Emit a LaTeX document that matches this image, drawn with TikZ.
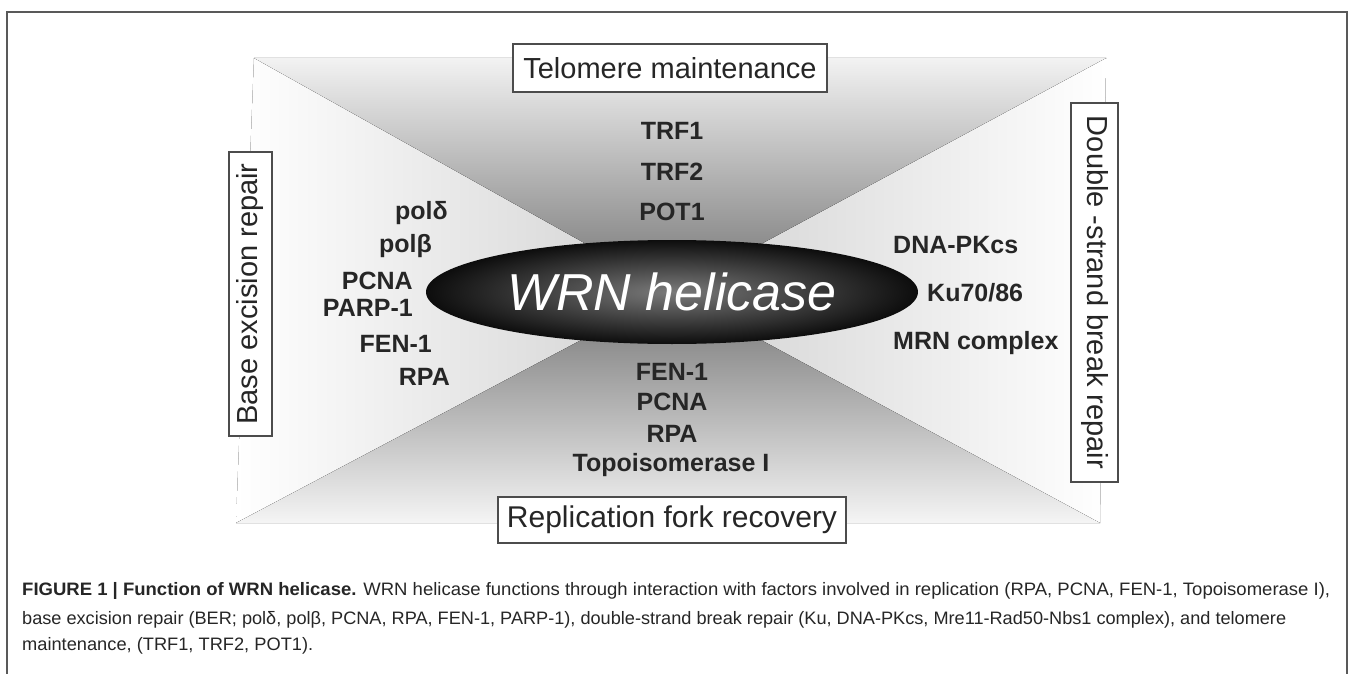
\documentclass[tikz,border=0pt]{standalone}
\usepackage{graphicx}
\usepackage{fontspec}
\setmainfont{Liberation Sans}
\usetikzlibrary{shapes.geometric}
\tikzset{
  lbl/.style={font=\fontsize{25}{28}\selectfont\bfseries, text=black!85, inner sep=0pt},
  catbox/.style={draw=black!70, line width=2pt, fill=white, inner sep=0pt, text=black!85, font=\fontsize{29}{31}\selectfont},
  capline/.style={anchor=west, inner sep=0pt, font=\fontsize{18}{20}\selectfont, text=black!85},
  frame/.style={draw=black!65, line width=1.5pt},
}
\begin{document}
\begin{tikzpicture}[x=1pt,y=-1pt]
\useasboundingbox (0,0) rectangle (1353,674);
\fill[white] (0,0) rectangle (1353,674);
% outer frame
\draw[frame] (7,674) -- (7,12) -- (1347,12) -- (1347,674);
% hourglass background
\coordinate (C) at (672,292);
\coordinate (TL) at (254,58);
\coordinate (TR) at (1106,58);
\coordinate (BL) at (236,523);
\coordinate (BR) at (1100,523);
\fill[left color=white, right color=black!18] (TL) -- (C) -- (BL) -- cycle;
\fill[left color=black!18, right color=white] (TR) -- (C) -- (BR) -- cycle;
\fill[top color=black!5, bottom color=black!55] (TL) -- (TR) -- (C) -- cycle;
\fill[top color=black!55, bottom color=black!4] (C) -- (BR) -- (BL) -- cycle;
% central ellipse
\node[ellipse, minimum width=492pt, minimum height=104pt, inner sep=0pt,
      shading=radial, inner color=black!52, outer color=black!95,
      text=white, font=\fontsize{52}{56}\selectfont\itshape] (wrn) at (672,292) {WRN helicase};
% category boxes
\node[catbox, minimum width=314pt, minimum height=48pt] (telo) at (670,68) {Telomere maintenance};
\node[catbox, minimum width=348pt, minimum height=46pt, font=\fontsize{30}{32}\selectfont] (repl) at (672,520) {Replication fork recovery};
\node[catbox, rotate=90, minimum width=284pt, minimum height=43pt] (ber) at (250.5,294) {Base excision repair};
\node[catbox, rotate=-90, minimum width=379pt, minimum height=47pt] (dsb) at (1094.5,292.5) {Double -strand break repair};
% telomere factors
\node[lbl] (trf1) at (672,131) {TRF1};
\node[lbl] (trf2) at (672,172) {TRF2};
\node[lbl] (pot1) at (672,212) {POT1};
% BER factors
\node[lbl, anchor=east] (pold) at (448,213) {polδ};
\node[lbl, anchor=east] (polb) at (432,246) {polβ};
\node[lbl, anchor=east] (pcnaL) at (413,281) {PCNA};
\node[lbl, anchor=east] (parp) at (413,308) {PARP-1};
\node[lbl, anchor=east] (fenL) at (432,344) {FEN-1};
\node[lbl, anchor=east] (rpaL) at (450,377) {RPA};
% DSB factors
\node[lbl, anchor=west] (dnapk) at (893,245) {DNA-PKcs};
\node[lbl, anchor=west] (ku) at (927,293) {Ku70/86};
\node[lbl, anchor=west] (mrn) at (893,343) {MRN complex};
% replication factors
\node[lbl] (fenB) at (672,372) {FEN-1};
\node[lbl] (pcnaB) at (672,402) {PCNA};
\node[lbl] (rpaB) at (672,434) {RPA};
\node[lbl] (topo) at (671,465) {Topoisomerase I};
% caption
\node[capline] (cap1) at (22,591) {\resizebox{1308pt}{\height}{\textbf{FIGURE 1 | Function of WRN helicase.} WRN helicase functions through interaction with factors involved in replication (RPA, PCNA, FEN-1, Topoisomerase I),}};
\node[capline] (cap2) at (22,620) {\resizebox{1264pt}{\height}{base excision repair (BER; polδ, polβ, PCNA, RPA, FEN-1, PARP-1), double-strand break repair (Ku, DNA-PKcs, Mre11-Rad50-Nbs1 complex), and telomere}};
\node[capline] (cap3) at (22,646) {\resizebox{291pt}{\height}{maintenance, (TRF1, TRF2, POT1).}};
\end{tikzpicture}
\end{document}
